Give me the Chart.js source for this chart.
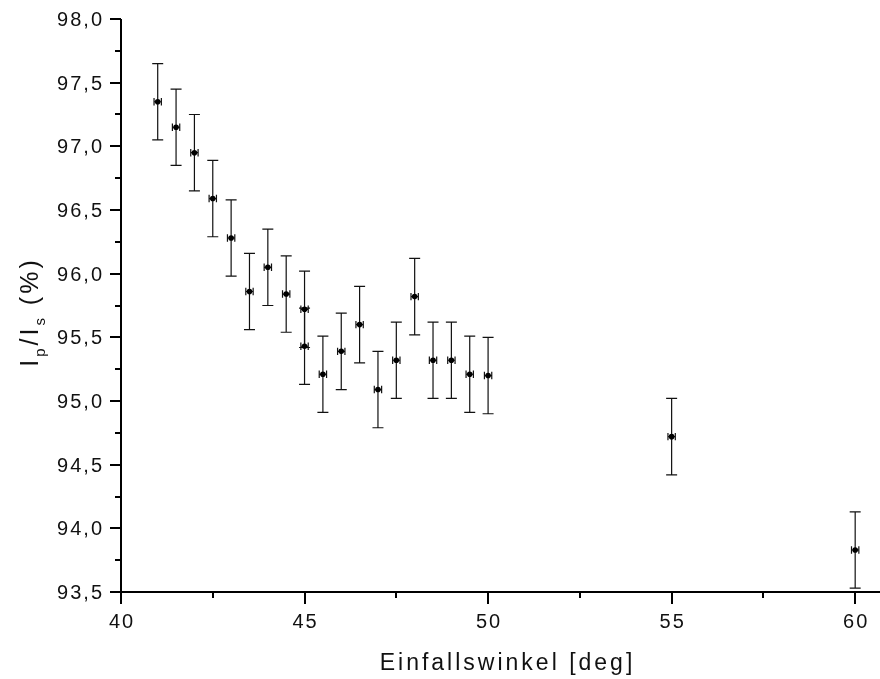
<!DOCTYPE html>
<html>
<head>
<meta charset="utf-8">
<script src="https://cdn.jsdelivr.net/npm/chart.js@4.4.1/dist/chart.umd.min.js"></script>
<style>
  body { margin: 0; background: #fff; }
  canvas { display: block; }
</style>
</head>
<body>
<canvas id="chart" width="880" height="679"></canvas>
<script>
// angle of incidence (deg) and Ip/Is ratio (%)
const angles = [41, 41.5, 42, 42.5, 43, 43.5, 44, 44.5, 45, 45, 45.5, 46, 46.5, 47, 47.5, 48, 48.5, 49, 49.5, 50, 55, 60];
const ratios = [97.35, 97.15, 96.95, 96.59, 96.28, 95.86, 96.05, 95.84, 95.72, 95.43, 95.21, 95.39, 95.60, 95.09, 95.32, 95.82, 95.32, 95.32, 95.21, 95.20, 94.72, 93.83];
const ratioErr = [0.3, 0.3, 0.3, 0.3, 0.3, 0.3, 0.3, 0.3, 0.3, 0.3, 0.3, 0.3, 0.3, 0.3, 0.3, 0.3, 0.3, 0.3, 0.3, 0.3, 0.3, 0.3];
const angleErr = [0.1, 0.1, 0.1, 0.1, 0.1, 0.1, 0.1, 0.1, 0.1, 0.1, 0.1, 0.1, 0.1, 0.1, 0.1, 0.1, 0.1, 0.1, 0.1, 0.1, 0.1, 0.1];

const xTicks = [40, 42.5, 45, 47.5, 50, 52.5, 55, 57.5, 60];
const xLabels = [40, 45, 50, 55, 60];
const yTicks = [93.5, 94, 94.5, 95, 95.5, 96, 96.5, 97, 97.5, 98];

const xTitle = 'Einfallswinkel [deg]';
const FONT = '"Liberation Sans", Arial, sans-serif';

const points = angles.map((a, i) => ({ x: a, y: ratios[i] }));

// text with letter spacing, aligned by its visible width
function spacedText(ctx, text, x, y, spacing, align) {
    ctx.letterSpacing = spacing + 'px';
    const w = ctx.measureText(text).width - spacing;
    let left = x;
    if (align === 'right') left = x - w;
    if (align === 'center') left = x - w / 2;
    ctx.textAlign = 'left';
    ctx.fillText(text, left, y);
    ctx.letterSpacing = '0px';
}

// error bars, axes with minor ticks, tick labels and axis titles
const decorations = {
    id: 'decorations',
    beforeDatasetsDraw(chart) {
        const ctx = chart.ctx;
        const xs = chart.scales.x;
        const ys = chart.scales.y;
        ctx.save();
        ctx.strokeStyle = '#111';
        ctx.lineWidth = 1.2;
        angles.forEach((a, i) => {
            const px = xs.getPixelForValue(a);
            const py = ys.getPixelForValue(ratios[i]);
            const top = ys.getPixelForValue(ratios[i] + ratioErr[i]);
            const bot = ys.getPixelForValue(ratios[i] - ratioErr[i]);
            const l = xs.getPixelForValue(a - angleErr[i]);
            const r = xs.getPixelForValue(a + angleErr[i]);
            ctx.beginPath();
            ctx.moveTo(px, top); ctx.lineTo(px, bot);
            ctx.moveTo(px - 5.5, top); ctx.lineTo(px + 5.5, top);
            ctx.moveTo(px - 5.5, bot); ctx.lineTo(px + 5.5, bot);
            ctx.moveTo(l, py); ctx.lineTo(r, py);
            ctx.moveTo(l, py - 3.7); ctx.lineTo(l, py + 3.7);
            ctx.moveTo(r, py - 3.7); ctx.lineTo(r, py + 3.7);
            ctx.stroke();
        });
        ctx.restore();
    },
    afterDraw(chart) {
        const ctx = chart.ctx;
        const xs = chart.scales.x;
        const ys = chart.scales.y;
        const area = chart.chartArea;
        ctx.save();
        ctx.strokeStyle = '#000';
        ctx.lineWidth = 2;
        ctx.beginPath();
        ctx.moveTo(area.left, area.top);
        ctx.lineTo(area.left, area.bottom);
        ctx.lineTo(chart.width, area.bottom);
        ctx.stroke();

        ctx.beginPath();
        xTicks.forEach(v => {
            const px = Math.round(xs.getPixelForValue(v));
            const len = v % 5 === 0 ? 12 : 6;
            ctx.moveTo(px, area.bottom);
            ctx.lineTo(px, area.bottom + len);
        });
        yTicks.forEach(v => {
            const py = Math.round(ys.getPixelForValue(v));
            ctx.moveTo(area.left, py);
            ctx.lineTo(area.left - 11, py);
            if (v < 98) {
                const pm = Math.round(ys.getPixelForValue(v + 0.25));
                ctx.moveTo(area.left, pm);
                ctx.lineTo(area.left - 6, pm);
            }
        });
        ctx.stroke();

        ctx.fillStyle = '#111';
        ctx.textBaseline = 'alphabetic';

        // tick labels
        ctx.font = '20px ' + FONT;
        yTicks.forEach(v => {
            const py = ys.getPixelForValue(v);
            spacedText(ctx, v.toFixed(1).replace('.', ','), 102, py + 7, 2, 'right');
        });
        ctx.font = '20px ' + FONT;
        xLabels.forEach(v => {
            const px = xs.getPixelForValue(v);
            spacedText(ctx, String(v), px, 628, 2, 'center');
        });

        // x title
        ctx.font = '23px ' + FONT;
        spacedText(ctx, xTitle, 506, 670, 3, 'center');

        // y title with subscripts
        ctx.translate(38, 312);
        ctx.rotate(-Math.PI / 2);
        const parts = [
            { t: 'I', sub: false },
            { t: 'p', sub: true },
            { t: '/I', sub: false },
            { t: 's', sub: true },
            { t: ' (%)', sub: false }
        ];
        const big = '25px ' + FONT;
        const small = '15px ' + FONT;
        const gap = 3;
        ctx.letterSpacing = gap + 'px';
        let total = 0;
        parts.forEach(p => {
            ctx.font = p.sub ? small : big;
            total += ctx.measureText(p.t).width;
        });
        let cx = -total / 2;
        ctx.textAlign = 'left';
        parts.forEach(p => {
            ctx.font = p.sub ? small : big;
            ctx.fillText(p.t, cx, p.sub ? 7 : 0);
            cx += ctx.measureText(p.t).width;
        });
        ctx.letterSpacing = '0px';
        ctx.restore();
    }
};

new Chart(document.getElementById('chart'), {
    type: 'scatter',
    data: {
        datasets: [{
            data: points,
            backgroundColor: '#000',
            borderColor: '#000',
            pointRadius: 2.8,
            pointHoverRadius: 2.8,
            borderWidth: 0
        }]
    },
    options: {
        responsive: false,
        devicePixelRatio: 1,
        animation: false,
        events: [],
        layout: { padding: { top: 19, right: 0, left: 0, bottom: 0 } },
        plugins: {
            legend: { display: false },
            tooltip: { enabled: false }
        },
        scales: {
            x: {
                type: 'linear',
                min: 40,
                max: 60.6,
                afterFit(scale) { scale.height = 87; },
                grid: { display: false, drawTicks: false },
                border: { display: false },
                ticks: { display: false }
            },
            y: {
                type: 'linear',
                min: 93.5,
                max: 98,
                afterFit(scale) { scale.width = 121; },
                grid: { display: false, drawTicks: false },
                border: { display: false },
                ticks: { display: false }
            }
        }
    },
    plugins: [decorations]
});
</script>
</body>
</html>
